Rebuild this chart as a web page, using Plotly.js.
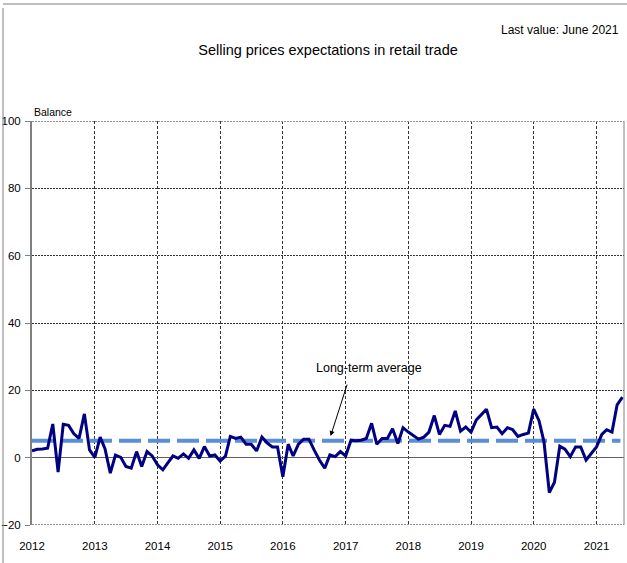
<!DOCTYPE html>
<html>
<head>
<meta charset="utf-8">
<script src="https://cdn.plot.ly/plotly-3.0.1.min.js"></script>
<style>
html,body{margin:0;padding:0;background:#fff;}
#chart{width:627px;height:563px;}
</style>
</head>
<body>
<div id="chart"></div>
<script>
// Monthly balance, Jan 2012 - Jun 2021
var startYear = 2012;
var v2012 = [2.0, 2.5, 2.6, 2.8, 10.0, -4.3, 9.9, 9.6, 7.1, 5.7, 13.0, 2.3];
var v2013 = [0.1, 6.1, 2.7, -4.6, 0.8, 0.1, -2.6, -3.1, 1.8, -2.6, 1.8, 0.5];
var v2014 = [-2.1, -3.6, -1.6, 0.5, -0.2, 1.1, -0.2, 2.3, -0.2, 3.3, 0.5, 0.8];
var v2015 = [-1.0, 0.5, 6.3, 5.7, 6.1, 4.0, 4.0, 2.0, 6.1, 4.4, 3.2, 3.2];
var v2016 = [-5.7, 4.0, 0.5, 4.0, 5.5, 5.5, 2.3, -0.7, -3.1, 0.8, 0.3, 1.8];
var v2017 = [0.5, 5.2, 5.0, 5.2, 5.7, 10.2, 4.0, 5.7, 5.7, 8.6, 4.2, 8.9];
var v2018 = [7.6, 6.6, 5.5, 6.1, 7.6, 12.5, 6.9, 9.6, 9.3, 13.9, 7.9, 9.1];
var v2019 = [7.6, 11.2, 12.8, 14.4, 8.9, 9.1, 7.1, 8.9, 8.3, 6.3, 6.9, 7.3];
var v2020 = [14.4, 11.0, 4.7, -10.4, -7.3, 3.4, 2.5, 0.3, 3.2, 3.2, -0.7, 1.1];
var v2021 = [3.2, 6.9, 8.3, 7.6, 15.7, 18.0];
var longTermAverage = 5.0;

var yearTicks = ['2012','2013','2014','2015','2016','2017','2018','2019','2020','2021'];
var yTicks = [-20, 0, 20, 40, 60, 80, 100];

var values = [].concat(v2012, v2013, v2014, v2015, v2016, v2017, v2018, v2019, v2020, v2021);
var dates = values.map(function(v, i){
  var y = startYear + Math.floor(i / 12);
  var m = (i % 12) + 1;
  return y + '-' + (m < 10 ? '0' + m : m) + '-01';
});
var avgX = [dates[0], '2021-05-20'];
var avgY = [longTermAverage, longTermAverage];

var FONT = '"Liberation Sans", Arial, sans-serif';

var traces = [
  {x: avgX, y: avgY, type: 'scatter', mode: 'lines',
   line: {color: '#5a8ed8', width: 4, dash: '22px,7px'}, hoverinfo: 'skip'},
  {x: dates, y: values, type: 'scatter', mode: 'lines',
   line: {color: '#000080', width: 3}}
];

var layout = {
  width: 627, height: 563,
  margin: {l: 32, r: 3, t: 121, b: 38},
  paper_bgcolor: '#fff', plot_bgcolor: '#fff',
  showlegend: false,
  font: {family: FONT, color: '#000', size: 12},
  title: {text: 'Selling prices expectations in retail trade',
    font: {family: FONT, size: 14.5, color: '#000'},
    xref: 'paper', x: 0.5, xanchor: 'center',
    yref: 'container', y: 1 - 50/563, yanchor: 'middle'},
  xaxis: {
    type: 'date',
    range: ['2012-01-01', '2021-06-10'],
    tickvals: yearTicks.map(function(y){return y + '-01-01';}),
    ticktext: yearTicks,
    ticks: '', showline: false, zeroline: false,
    showgrid: true, gridcolor: '#333', gridwidth: 1, griddash: '3px,2px',
    tickfont: {family: FONT, size: 11.5},
    ticklabelstandoff: 12,
    fixedrange: true
  },
  yaxis: {
    range: [-20, 100],
    tickvals: yTicks,
    ticks: 'outside', ticklen: 5, tickcolor: '#808080', tickwidth: 1,
    showline: true, linecolor: '#808080', linewidth: 2,
    showgrid: true, gridcolor: '#333', gridwidth: 1, griddash: '2px,1px',
    zeroline: true, zerolinecolor: '#606060', zerolinewidth: 1.5,
    tickfont: {family: FONT, size: 11.5},
    ticklabelstandoff: 2,
    fixedrange: true
  },
  shapes: [
    {type: 'line', xref: 'paper', yref: 'y', x0: 0, x1: 1, y0: 100, y1: 100,
     line: {color: '#909090', width: 2, dash: '2px,1px'}},
    {type: 'line', xref: 'paper', yref: 'y', x0: 0, x1: 1, y0: -20, y1: -20,
     line: {color: '#909090', width: 2, dash: '2px,1px'}},
    {type: 'line', xref: 'paper', yref: 'paper', x0: 1, x1: 1, y0: 0, y1: 1,
     line: {color: '#808080', width: 1}},
    {type: 'line', xref: 'paper', yref: 'paper', x0: -29/592, x1: -29/592, y0: -0.2, y1: 1 + 113/404,
     line: {color: '#808080', width: 1}},
    {type: 'line', xref: 'paper', yref: 'paper', x0: -29/592, x1: 1.05, y0: 1 + 117/404, y1: 1 + 117/404,
     line: {color: '#808080', width: 1}}
  ],
  annotations: [
    {text: 'Last value: June 2021', xref: 'paper', yref: 'paper',
     x: 1, xanchor: 'right', xshift: -3, y: (525-30)/404, yanchor: 'middle',
     showarrow: false, font: {family: FONT, size: 12}},
    {text: 'Balance', xref: 'paper', yref: 'paper', x: 0, xanchor: 'left',
     y: 1, yanchor: 'bottom', yshift: 1, showarrow: false, font: {family: FONT, size: 10.5}},
    {text: 'Long-term average', xref: 'x', yref: 'y', x: '2017-05-15', y: 26.5,
     xanchor: 'center', yanchor: 'middle', showarrow: false, font: {family: FONT, size: 12.5}},
    {text: '', xref: 'x', yref: 'y', x: '2016-10-05', y: 6.4,
     showarrow: true, arrowhead: 2, arrowsize: 1, arrowwidth: 1, arrowcolor: '#000',
     ax: 17, ay: -53}
  ]
};

Plotly.newPlot('chart', traces, layout, {displayModeBar: false, staticPlot: true});
</script>
</body>
</html>
